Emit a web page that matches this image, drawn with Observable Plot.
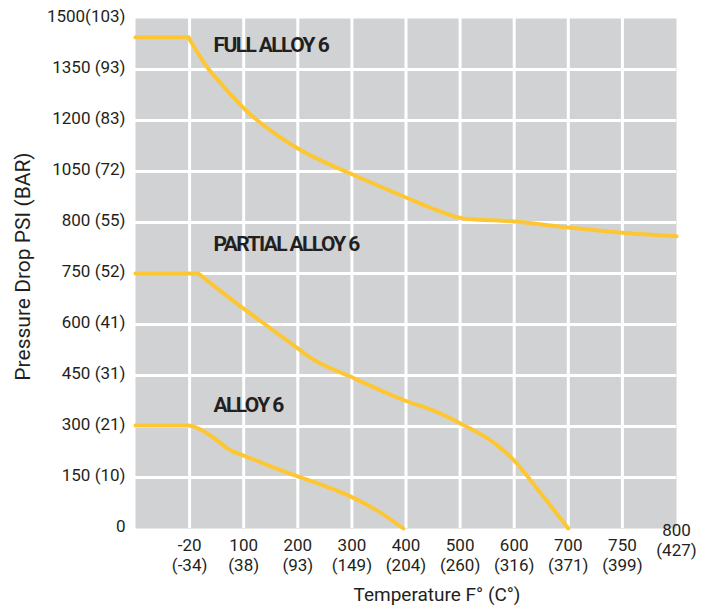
<!DOCTYPE html>
<html>
<head>
<meta charset="utf-8">
<script src="https://cdn.jsdelivr.net/npm/d3@7"></script>
<script src="https://cdn.jsdelivr.net/npm/@observablehq/plot@0.6"></script>
<style>
  html, body { margin: 0; padding: 0; background: #fff; }
  #chart { width: 710px; height: 608px; }
  g[font-weight="bold"] text { letter-spacing: -1.6px; }
</style>
</head>
<body>
<div id="chart"></div>
<script>
// Category tick labels (equally spaced categories)
const yTicks = ["0", "150 (10)", "300 (21)", "450 (31)", "600 (41)", "750 (52)", "800 (55)", "1050 (72)", "1200 (83)", "1350 (93)", "1500(103)"];
const xTicks = ["-20\n(-34)", "100\n(38)", "200\n(93)", "300\n(149)", "400\n(204)", "500\n(260)", "600\n(316)", "700\n(371)", "750\n(399)", "800\n(427)"];

// Series values as [temperature category index, pressure category index]
const fullAlloy6 = [[0, 9.63], [0.98, 9.63], [1.33, 9.04], [1.66, 8.63], [2.0, 8.24], [2.5, 7.80], [3.0, 7.45], [3.97, 6.96], [5.0, 6.49], [5.45, 6.29], [6.06, 6.08], [7.0, 6.02], [8.0, 5.90], [9.0, 5.80], [10, 5.73]];
const partialAlloy6 = [[0, 5.0], [1.16, 5.0], [2.0, 4.31], [2.5, 3.92], [3.0, 3.53], [3.23, 3.35], [3.97, 2.98], [5.0, 2.5], [5.51, 2.31], [5.97, 2.08], [6.69, 1.63], [7.0, 1.33], [7.49, 0.69], [8.0, 0]];
const alloy6 = [[0, 2.02], [0.98, 2.02], [1.39, 1.82], [1.76, 1.53], [2.0, 1.43], [2.5, 1.22], [3.0, 1.02], [3.48, 0.84], [3.97, 0.63], [4.47, 0.35], [4.95, 0]];

const seriesNames = ["FULL ALLOY 6", "PARTIAL ALLOY 6", "ALLOY 6"];
const seriesData = [fullAlloy6, partialAlloy6, alloy6];
const sharpKink = [true, true, false];   // corner where the flat part ends
const labelDy = [8, -29, -20];

// split the flat start from the falling part when the corner is sharp
const rows = seriesData.flatMap((s, k) => s.flatMap(([x, y], i) => {
  const name = seriesNames[k];
  if (!sharpKink[k]) return [{piece: name, x, y}];
  if (i === 0) return [{piece: name + "-flat", x, y}];
  if (i === 1) return [{piece: name + "-flat", x, y}, {piece: name + "-fall", x, y}];
  return [{piece: name + "-fall", x, y}];
}));

const yellow = "#fdc733";
const ink = "#231f20";

const chart = Plot.plot({
  width: 710,
  height: 608,
  marginLeft: 135,
  marginRight: 34,
  marginTop: 18,
  marginBottom: 80,
  x: {domain: [0, xTicks.length], axis: null},
  y: {domain: [0, yTicks.length - 1], axis: null},
  style: {fontFamily: "Roboto", fontSize: "17px", color: ink, background: "#fff"},
  marks: [
    Plot.frame({fill: "#d1d2d4", stroke: null}),
    Plot.gridX(d3.range(1, xTicks.length), {stroke: "#fff", strokeOpacity: 1, strokeWidth: 3}),
    Plot.gridY(d3.range(1, yTicks.length - 1), {stroke: "#fff", strokeOpacity: 1, strokeWidth: 3}),
    Plot.axisY(d3.range(0, yTicks.length), {tickSize: 0, tickPadding: 10, dy: -2, tickFormat: i => yTicks[i], label: null, fontSize: 17, fill: ink}),
    Plot.text(xTicks.slice(0, -1), {x: (d, i) => i + 1, frameAnchor: "bottom", lineAnchor: "top", dy: 8, lineHeight: 1.18, fontSize: 17, fill: ink, text: d => d}),
    Plot.text(xTicks.slice(-1), {x: () => xTicks.length, frameAnchor: "bottom", lineAnchor: "top", dy: -7, lineHeight: 1.18, fontSize: 17, fill: ink, text: d => d}),
    Plot.line(rows, {x: "x", y: "y", z: "piece", stroke: yellow, strokeWidth: 4, strokeLinejoin: "round", strokeLinecap: "round", curve: "monotone-x"}),
    ...seriesData.map((s, k) => Plot.text([seriesNames[k]], {x: () => s[0][0], y: () => s[0][1], dx: 78, dy: labelDy[k], textAnchor: "start", text: d => d, fontFamily: "Roboto", fontWeight: "bold", fontSize: 21, fill: ink})),
    Plot.text(["Pressure Drop PSI (BAR)"], {frameAnchor: "left", textAnchor: "middle", rotate: -90, dx: -112, dy: -7, fontSize: 21, fill: ink, text: d => d}),
    Plot.text(["Temperature F° (C°)"], {frameAnchor: "bottom", textAnchor: "middle", dx: 31, dy: 72, fontSize: 19, fill: ink, text: d => d})
  ]
});
document.getElementById("chart").append(chart);
</script>
</body>
</html>
